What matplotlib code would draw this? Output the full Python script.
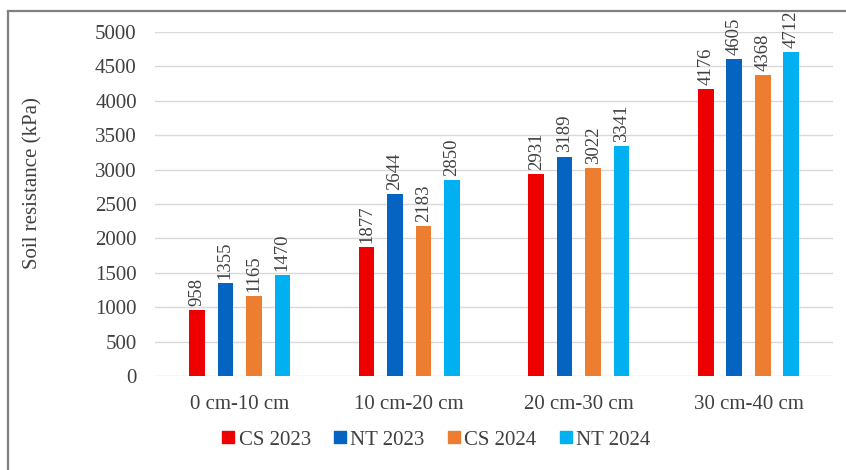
import numpy as np
import matplotlib.pyplot as plt
from matplotlib.lines import Line2D

# ====================== 数据 ======================
depths = ["0 cm-10 cm", "10 cm-20 cm", "20 cm-30 cm", "30 cm-40 cm"]
series_names = ["CS 2023", "NT 2023", "CS 2024", "NT 2024"]
cs_2023 = [958, 1877, 2931, 4176]
nt_2023 = [1355, 2644, 3189, 4605]
cs_2024 = [1165, 2183, 3022, 4368]
nt_2024 = [1470, 2850, 3341, 4712]
y_ticks = [0, 500, 1000, 1500, 2000, 2500, 3000, 3500, 4000, 4500, 5000]

colors = ["#EE0000", "#0563C1", "#ED7D31", "#00B0F0"]
text_color = "#404040"

plt.rcParams['font.family'] = ['Liberation Serif', 'DejaVu Serif']

fig = plt.figure(figsize=(8.46, 4.70), dpi=100)
ax = fig.add_axes([0.183, 0.2, 0.802, 0.732])

x = np.arange(len(depths))
bar_w = 0.092
step = 0.168
all_series = [cs_2023, nt_2023, cs_2024, nt_2024]

for i, (vals, name, c) in enumerate(zip(all_series, series_names, colors)):
    pos = x + (i - 1.5) * step
    ax.bar(pos, vals, width=bar_w, color=c, label=name, zorder=3)
    for px, v in zip(pos, vals):
        ax.text(px, v + 60, f"{v}", rotation=90, ha="center", va="bottom",
                fontsize=13.5, color=text_color, clip_on=False)

ax.set_xlim(-0.5, len(depths) - 0.5)
ax.set_ylim(0, 5000)
ax.set_yticks(y_ticks)
ax.set_xticks(x)
ax.set_xticklabels(depths)
ax.tick_params(axis="both", length=0, labelsize=15, colors=text_color)
ax.tick_params(axis="y", pad=13)
ax.tick_params(axis="x", pad=14)
ax.grid(axis="y", color="#D9D9D9", linewidth=1, zorder=0)
for s in ax.spines.values():
    s.set_visible(False)

ax.set_ylabel("Soil resistance (kPa)", fontsize=15, color=text_color)
ax.yaxis.set_label_coords(-0.166, 0.56)

# 图例
handles = [Line2D([], [], marker="s", linestyle="none", markersize=9,
                  markerfacecolor=c, markeredgecolor=c) for c in colors]
fig.legend(handles, series_names, loc="center", bbox_to_anchor=(0.515, 0.064),
           ncol=4, frameon=False, fontsize=15, handlelength=0.7,
           handletextpad=0.15, columnspacing=1.05, labelcolor=text_color)

# 外框线（左侧与顶部）
fig.add_artist(Line2D([0.009, 0.009], [0, 0.977], color="#808080", linewidth=1.6,
                      transform=fig.transFigure))
fig.add_artist(Line2D([0.009, 1.0], [0.977, 0.977], color="#808080", linewidth=1.6,
                      transform=fig.transFigure))

fig.savefig("out.png", dpi=100)
